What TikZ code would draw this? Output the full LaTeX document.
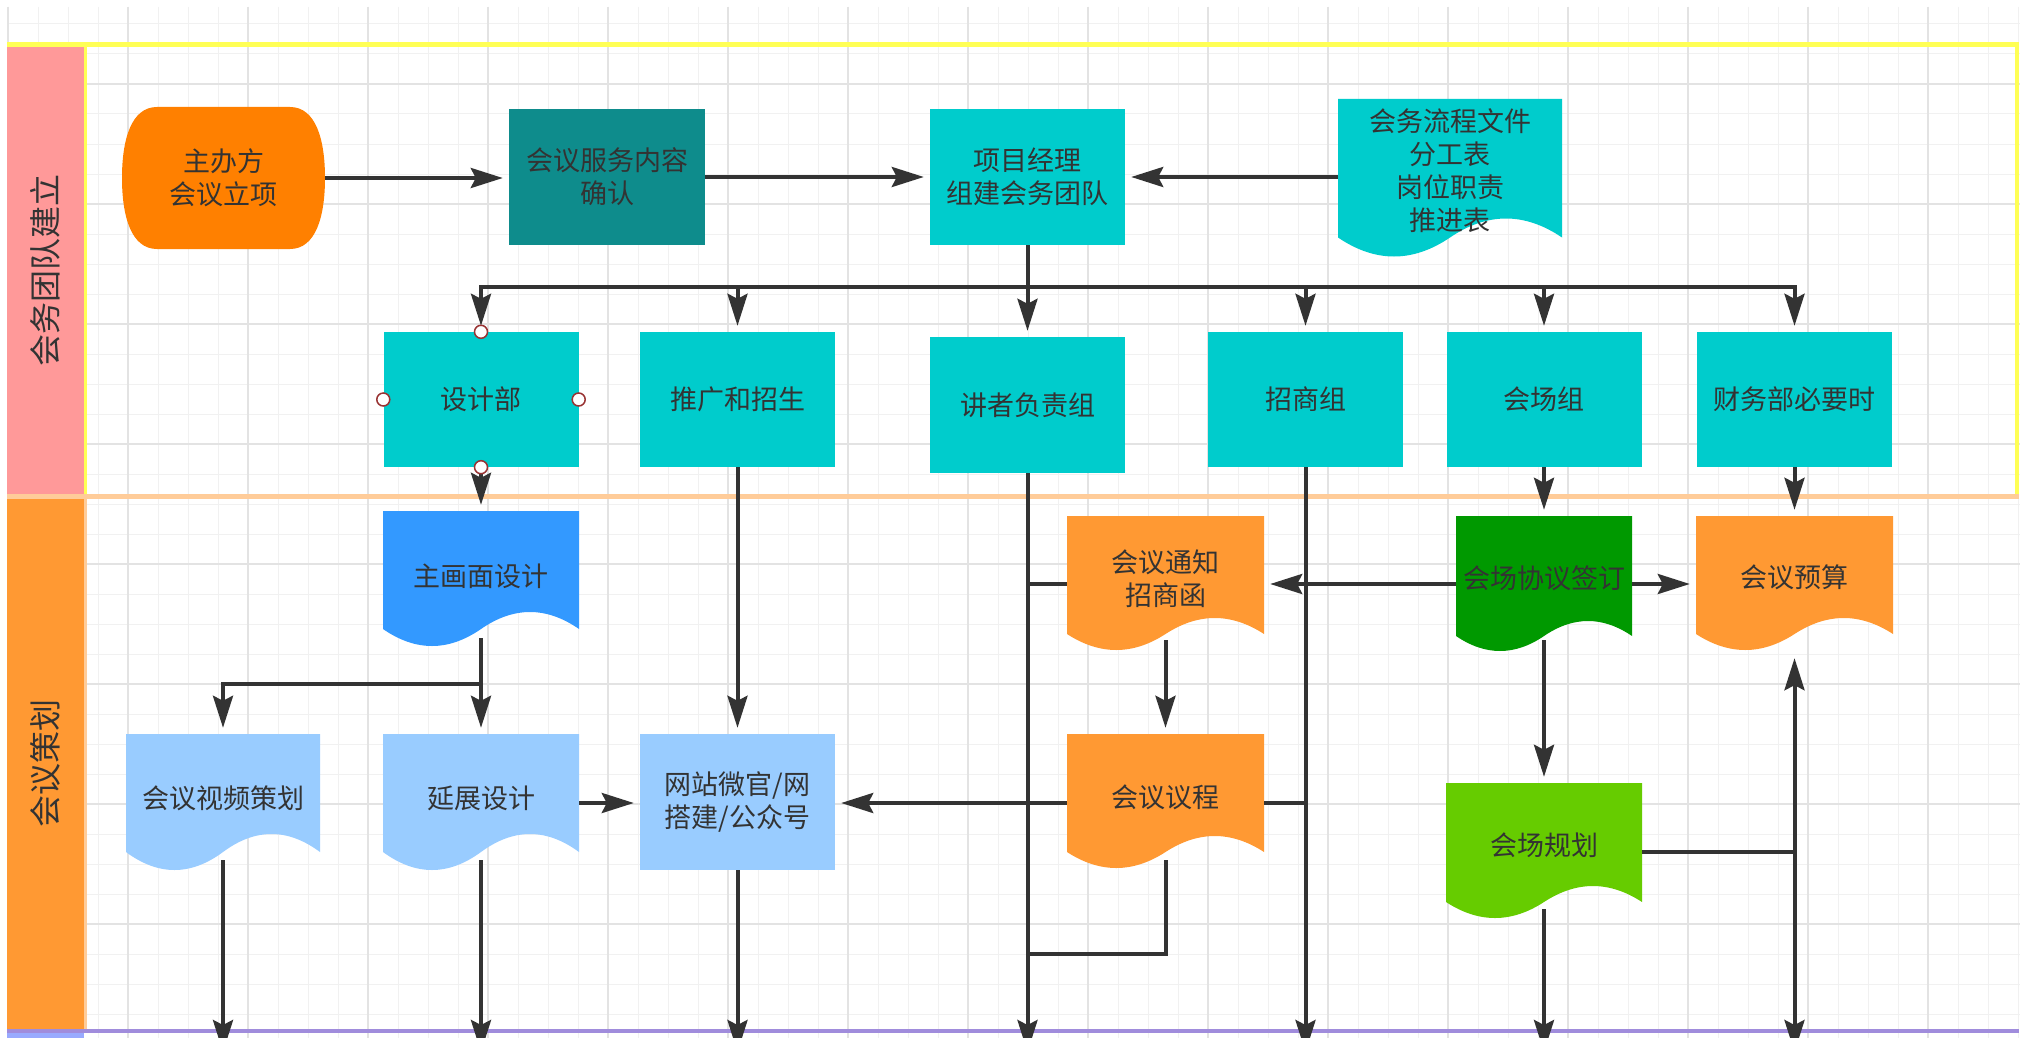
\documentclass[tikz,border=0pt]{standalone}
\usepackage{fontspec}
\setmainfont{Noto Sans CJK SC}
\usetikzlibrary{arrows.meta,calc}
\definecolor{txt}{HTML}{333333}
\definecolor{ln}{HTML}{333333}
\definecolor{teal1}{HTML}{00CCCC}
\definecolor{teal2}{HTML}{0E8C8C}
\definecolor{orange1}{HTML}{FF8000}
\definecolor{orange2}{HTML}{FF9933}
\definecolor{blue1}{HTML}{3399FF}
\definecolor{blue2}{HTML}{99CCFF}
\definecolor{green1}{HTML}{009900}
\definecolor{green2}{HTML}{66CC00}
\definecolor{pinkh}{HTML}{FF9999}
\definecolor{yel}{HTML}{FFFF55}
\definecolor{lorange}{HTML}{FFCC99}
\definecolor{purp}{HTML}{A08CDC}
\definecolor{lanethree}{HTML}{99AAFF}
\definecolor{gridminor}{HTML}{F1F1F1}
\definecolor{gridmajor}{HTML}{E3E3E3}
\definecolor{handle}{HTML}{993333}

% document shape: colour, x1, ytop, x2, yend, amplitude
\newcommand{\docfill}[6]{%
  \fill[#1] (#2,#3) -- (#4,#3) -- (#4,#5)
    .. controls ({#4-(#4-#2)/6},{#5-4*#6/3}) and ({(#2+#4)/2+(#4-#2)/6},{#5-4*#6/3}) .. ({(#2+#4)/2},#5)
    .. controls ({(#2+#4)/2-(#4-#2)/6},{#5+4*#6/3}) and ({#2+(#4-#2)/6},{#5+4*#6/3}) .. (#2,#5) -- cycle;}

\begin{document}
\begin{tikzpicture}[x=1pt,y=-1pt,
  lbl/.style={text=txt,font=\fontsize{27}{33}\selectfont,align=center,inner sep=0pt},
  lanelbl/.style={text=txt,font=\fontsize{32}{38}\selectfont,inner sep=0pt,rotate=90},
  rbox/.style={lbl,minimum width=195pt,minimum height=135pt},
  area/.style={inner sep=0pt},
  conn/.style={draw=ln,line width=4pt},
  arr/.style={conn,-{Stealth[length=32pt,width=20pt,inset=5pt]},shorten >=6pt},
  hdl/.style={circle,draw=handle,fill=white,line width=1.5pt,minimum size=13pt,inner sep=0pt},
  gmin/.style={draw=gridminor,line width=1pt},
  gmaj/.style={draw=gridmajor,line width=1.2pt}
]
\useasboundingbox (0,0) rectangle (2020,1038);
\clip (0,0) rectangle (2020,1038);
\fill[white] (0,0) rectangle (2020,1038);

% grid
\foreach \x in {8,38,...,2018} \draw[gmin] (\x,7) -- (\x,1038);
\foreach \y in {24,54,...,1034} \draw[gmin] (7,\y) -- (2020,\y);
\foreach \x in {8,128,...,2008} \draw[gmaj] (\x,7) -- (\x,1038);
\foreach \y in {84,204,...,1034} \draw[gmaj] (7,\y) -- (2020,\y);

% lanes
\fill[pinkh] (7,45) rectangle (84,496);
\fill[orange2] (7,496) rectangle (84,1031);
\fill[lanethree] (7,1031) rectangle (84,1040);
\draw[yel,line width=3pt] (85,45) -- (85,496);
\draw[yel,line width=4pt] (2017,45) -- (2017,496);
\draw[yel,line width=5pt] (7,45) -- (2019,45);
\draw[lorange,line width=3pt] (85,496) -- (85,1031);
\draw[lorange,line width=5pt] (7,496) -- (2019,496);
\draw[purp,line width=4pt] (7,1031) -- (2019,1031);
\node[lanelbl] (lane1) at (45.5,270.5) {会务团队建立};
\node[lanelbl] (lane2) at (45.5,763.5) {会议策划};

% lane 1 nodes
\fill[orange1] (157,107) -- (290,107) .. controls (316,107) and (325,140) .. (325,178)
  .. controls (325,216) and (316,249) .. (290,249) -- (157,249)
  .. controls (131,249) and (122,216) .. (122,178)
  .. controls (122,140) and (131,107) .. (157,107) -- cycle;
\node[lbl,minimum width=203pt,minimum height=142pt] (zbf) at (223.5,178) {主办方\\会议立项};
\node[rbox,fill=teal2,minimum width=196pt,minimum height=136pt] (fwqr) at (607,177) {会议服务内容\\确认};
\node[rbox,fill=teal1,minimum height=136pt] (xmjl) at (1027.5,177) {项目经理\\组建会务团队};
\docfill{teal1}{1338}{99}{1562}{237.5}{19}
\node[area,minimum width=224pt,minimum height=156pt] (lc) at (1450,177) {};
\node[lbl] (lct) at (1450,171) {会务流程文件\\分工表\\岗位职责\\推进表};

\node[rbox,fill=teal1] (sjb) at (481,399.5) {设计部};
\node[rbox,fill=teal1] (tg) at (737.5,399.5) {推广和招生};
\node[rbox,fill=teal1,minimum height=136pt] (jz) at (1027.5,405) {讲者负责组};
\node[rbox,fill=teal1] (zs) at (1305.5,399.5) {招商组};
\node[rbox,fill=teal1] (hcz) at (1544,399.5) {会场组};
\node[rbox,fill=teal1] (cw) at (1794.5,399.5) {财务部必要时};

% lane 2 nodes
\docfill{blue1}{383}{511}{579}{629}{17}
\node[area,minimum width=196pt,minimum height=139pt] (zhm) at (481,580.5) {};
\node[lbl] (zhmt) at (481,576) {主画面设计};

\docfill{blue2}{126}{734}{320}{852}{18}
\node[area,minimum width=194pt,minimum height=138pt] (sp) at (223,803) {};
\node[lbl] (spt) at (223,798) {会议视频策划};

\docfill{blue2}{383}{734}{579}{852}{18}
\node[area,minimum width=196pt,minimum height=138pt] (yz) at (481,803) {};
\node[lbl] (yzt) at (481,798) {延展设计};

\node[rbox,fill=blue2,minimum height=136pt] (wz) at (737.5,802) {网站微官/网\\搭建/公众号};

\docfill{orange2}{1067}{516}{1264}{634}{16}
\node[area,minimum width=197pt,minimum height=136pt] (tz) at (1165.5,584) {};
\node[lbl] (tzt) at (1165.5,578.5) {会议通知\\招商函};

\docfill{orange2}{1067}{734}{1264}{852}{16}
\node[area,minimum width=197pt,minimum height=138pt] (yc) at (1165.5,803) {};
\node[lbl] (yct) at (1165.5,797) {会议议程};

\docfill{green1}{1456}{516}{1632}{636}{15}
\node[area,minimum width=176pt,minimum height=136pt] (xy) at (1544,584) {};
\node[lbl] (xyt) at (1544,578) {会场协议签订};

\docfill{orange2}{1696}{516}{1893}{634}{16}
\node[area,minimum width=197pt,minimum height=136pt] (ys) at (1794.5,584) {};
\node[lbl] (yst) at (1794.5,577) {会议预算};

\docfill{green2}{1446}{783}{1642}{902}{16}
\node[area,minimum width=196pt,minimum height=138pt] (gh) at (1544,852) {};
\node[lbl] (ght) at (1544,845) {会场规划};

% bottom ends
\coordinate (e1) at (223,1052);
\coordinate (e2) at (481,1052);
\coordinate (e3) at (737.5,1052);
\coordinate (e4) at (1027.5,1052);
\coordinate (e5) at (1305.5,1052);
\coordinate (e6) at (1544,1052);
\coordinate (e7) at (1794.5,1052);

% lane 1 connectors
\draw[arr] (zbf.east) -- (zbf.east -| fwqr.west);
\draw[arr] (fwqr.east) -- (fwqr.east -| xmjl.west);
\draw[arr] (lc.west) -- (lc.west -| xmjl.east);
\foreach \t in {sjb,tg,zs,hcz,cw} \draw[arr] (xmjl.south) -- ++(0,42) -| (\t.north);
\draw[arr] (xmjl.south) -- (jz.north);

% lane 2 connectors
\draw[arr,shorten <=7pt] (sjb.south) -- (zhm.north);
\draw[arr] ([yshift=12pt]zhm.south) -- ++(0,46) -| (sp.north);
\draw[arr] ([yshift=12pt]zhm.south) -- (yz.north);
\draw[arr] (yz.east) -- (yz.east -| wz.west);
\draw[arr] (tg.south) -- (wz.north);
\draw[arr] (yc.west) -- (yc.west -| wz.east);
\draw[conn] (tz.west) -- (tz.west -| jz.south);
\draw[arr] (xy.west) -- (tz.east);
\draw[arr] ([yshift=12pt]tz.south) -- (yc.north);
\draw[conn] (yc.east) -- (yc.east -| zs.south);
\draw[conn] ([yshift=12pt]yc.south) |- (jz.south |- 0,954);
\draw[arr] (hcz.south) -- (xy.north);
\draw[arr] (cw.south) -- (ys.north);
\draw[arr] (xy.east) -- (ys.west);
\draw[arr] ([yshift=12pt]xy.south) -- (gh.north);
\draw[arr] (gh.east) -| (ys.south);

% to next lane
\draw[arr,shorten >=0pt] ([yshift=12pt]sp.south) -- (e1);
\draw[arr,shorten >=0pt] ([yshift=12pt]yz.south) -- (e2);
\draw[arr,shorten >=0pt] (wz.south) -- (e3);
\draw[arr,shorten >=0pt] (jz.south) -- (e4);
\draw[arr,shorten >=0pt] (zs.south) -- (e5);
\draw[arr,shorten >=0pt] ([yshift=12pt]gh.south) -- (e6);
\draw[arr,shorten >=0pt] (gh.east) -| (e7);

% selection handles on 设计部
\node[hdl] (h1) at (sjb.north) {};
\node[hdl] (h2) at (sjb.west) {};
\node[hdl] (h3) at (sjb.east) {};
\node[hdl] (h4) at (sjb.south) {};
\end{tikzpicture}
\end{document}
